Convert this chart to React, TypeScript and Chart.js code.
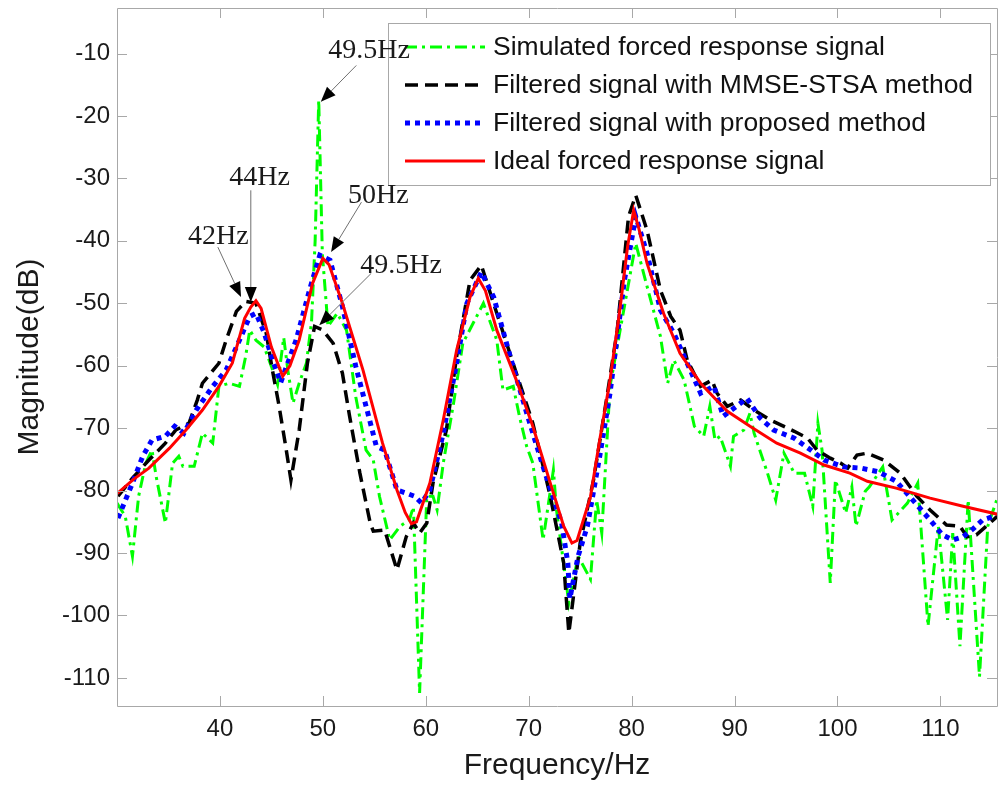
import React, { useEffect, useRef } from 'react';
import { Chart, registerables } from 'chart.js';

Chart.register(...registerables);

// ---- axis ticks ----
const xTickValues = [40, 50, 60, 70, 80, 90, 100, 110];
const yTickValues = [-110, -100, -90, -80, -70, -60, -50, -40, -30, -20, -10];

// ---- Simulated forced response signal (green dash-dot) ----
const simFreq = [30.0, 30.8, 31.5, 32.1, 32.8, 33.4, 33.8, 34.7, 35.4, 36.0, 36.4, 37.5, 38.3, 39.3, 39.9, 40.9, 41.9, 42.5, 42.9, 43.5, 44.3, 45.0, 45.6, 46.2, 46.6, 47.1, 47.7, 48.4, 48.9, 49.25, 49.6, 49.95, 50.5, 51.4, 52.3, 53.2, 54.2, 54.9, 55.5, 56.5, 57.5, 58.4, 58.8, 59.4, 60.1, 60.7, 61.1, 61.7, 62.7, 63.6, 65.6, 66.9, 67.5, 68.5, 69.1, 69.8, 70.4, 71.4, 72.4, 72.7, 73.9, 74.8, 76.0, 76.6, 77.1, 77.9, 79.3, 80.4, 81.5, 82.8, 83.5, 84.1, 85.1, 86.1, 87.0, 87.6, 88.1, 88.6, 89.6, 89.9, 90.9, 91.5, 91.9, 93.2, 94.0, 94.8, 95.8, 96.8, 97.6, 98.1, 98.5, 99.3, 99.8, 100.8, 101.4, 101.8, 102.7, 103.1, 104.4, 105.3, 106.8, 107.8, 108.8, 109.8, 110.7, 111.2, 111.9, 112.7, 113.8, 114.6, 115.6];
const simMag = [-82.0, -84.1, -90.5, -80.9, -75.6, -73.5, -77.7, -85.2, -75.6, -74.5, -76.1, -76.1, -70.8, -72.4, -63.3, -62.8, -63.3, -58.5, -54.3, -55.9, -57.0, -60.1, -63.0, -55.5, -60.7, -66.0, -62.8, -59.6, -53.0, -40.0, -17.5, -42.0, -53.7, -51.6, -54.3, -65.0, -73.5, -75.1, -80.9, -87.9, -85.7, -84.7, -82.6, -112.4, -80.9, -80.9, -83.1, -75.6, -66.0, -56.4, -50.0, -55.9, -63.9, -63.3, -68.1, -72.9, -75.6, -87.9, -76.7, -83.1, -98.0, -90.5, -94.2, -81.5, -86.8, -63.3, -50.5, -40.4, -47.3, -55.3, -62.8, -59.1, -62.3, -69.7, -71.3, -66.5, -71.9, -71.3, -76.1, -71.3, -70.3, -67.6, -70.8, -77.2, -81.5, -74.0, -77.2, -77.2, -82.5, -69.2, -73.5, -94.8, -78.3, -83.6, -79.4, -85.7, -80.1, -79.4, -76.2, -84.7, -82.0, -78.8, -101.7, -85.7, -100.7, -86.8, -104.9, -81.5, -109.8, -85.7, -80.9];

// ---- Filtered signal with MMSE-STSA method (black dashed) ----
const mmseFreq = [30.1, 31.5, 33.1, 34.7, 35.7, 37.0, 37.8, 38.3, 39.9, 40.6, 41.6, 42.5, 43.5, 44.5, 45.1, 45.7, 46.4, 46.9, 47.7, 48.5, 49.2, 50.0, 51.0, 51.9, 52.6, 53.6, 54.6, 54.9, 56.0, 57.2, 58.1, 58.8, 59.4, 60.1, 60.7, 62.0, 63.0, 64.3, 65.4, 66.9, 68.8, 70.4, 72.1, 73.4, 73.9, 75.0, 76.3, 77.6, 78.6, 79.7, 80.4, 81.5, 82.8, 83.8, 84.7, 85.4, 86.7, 87.8, 88.3, 89.3, 90.6, 91.9, 93.5, 95.8, 97.1, 98.0, 99.3, 100.3, 101.0, 101.9, 102.9, 104.5, 106.1, 107.7, 109.0, 110.6, 111.9, 112.6, 113.5, 114.8, 115.6];
const mmseMag = [-80.9, -78.0, -75.1, -72.4, -70.3, -69.2, -65.5, -62.8, -59.6, -55.9, -51.3, -49.7, -50.0, -54.8, -60.7, -66.0, -73.0, -78.3, -70.3, -59.6, -53.7, -54.3, -56.4, -61.2, -68.1, -77.2, -85.2, -86.5, -86.3, -92.7, -87.4, -85.2, -86.8, -85.2, -78.8, -70.3, -58.5, -46.3, -43.9, -51.6, -61.2, -69.2, -80.9, -91.6, -102.8, -88.4, -78.3, -65.0, -54.3, -36.1, -32.7, -38.3, -47.9, -52.1, -54.3, -59.1, -63.3, -62.3, -64.4, -66.5, -65.5, -67.1, -68.7, -70.5, -71.6, -73.5, -74.8, -75.6, -76.4, -74.3, -74.0, -75.1, -77.2, -80.9, -83.1, -85.5, -85.7, -87.4, -87.1, -85.2, -84.0];

// ---- Filtered signal with proposed method (blue dotted) ----
const propFreq = [30.1, 30.7, 31.5, 32.5, 33.4, 34.7, 35.6, 36.5, 37.7, 39.3, 40.6, 41.9, 42.9, 43.5, 44.3, 45.1, 45.9, 47.4, 48.7, 49.7, 50.7, 51.9, 53.2, 54.2, 55.2, 56.0, 57.2, 58.1, 58.9, 59.6, 60.4, 61.7, 63.0, 64.0, 65.4, 66.6, 68.2, 69.9, 71.5, 73.2, 73.8, 74.0, 74.8, 75.7, 76.9, 77.9, 79.3, 80.4, 81.5, 82.8, 84.1, 85.1, 86.7, 88.0, 88.9, 90.2, 91.2, 92.5, 93.8, 95.8, 97.4, 98.7, 100.6, 102.3, 104.0, 105.7, 107.3, 109.0, 110.2, 111.2, 112.2, 113.2, 114.1, 115.6];
const propMag = [-84.4, -82.0, -78.8, -74.5, -71.9, -71.3, -69.7, -70.8, -67.1, -63.3, -60.7, -55.9, -52.1, -51.6, -54.7, -59.0, -62.7, -55.9, -47.9, -42.3, -43.1, -50.5, -60.1, -66.5, -72.9, -73.5, -79.9, -80.4, -80.9, -82.0, -79.9, -70.8, -59.6, -50.0, -45.0, -49.0, -58.5, -68.1, -76.7, -85.2, -91.6, -97.3, -90.5, -85.7, -74.5, -64.4, -46.3, -36.1, -42.0, -51.1, -54.8, -58.5, -64.4, -63.3, -68.1, -66.5, -65.2, -68.4, -70.3, -71.6, -73.5, -75.1, -76.2, -76.4, -77.0, -78.5, -81.5, -84.7, -87.1, -87.9, -87.4, -86.1, -84.7, -83.9];

// ---- Ideal forced response signal (red solid) ----
const idealFreq = [30.0, 31.6, 33.1, 35.1, 36.7, 38.3, 39.9, 41.2, 42.4, 43.0, 43.5, 44.0, 45.0, 46.1, 46.8, 47.7, 49.0, 50.0, 50.6, 51.9, 53.9, 55.8, 57.2, 58.0, 58.6, 59.1, 60.4, 61.7, 63.0, 64.3, 65.1, 65.8, 66.9, 68.8, 70.4, 72.1, 73.4, 74.2, 74.7, 76.0, 76.9, 77.9, 78.9, 79.6, 80.2, 80.7, 81.5, 83.1, 84.7, 86.7, 88.3, 89.3, 91.5, 94.1, 96.4, 98.7, 101.2, 102.9, 105.7, 109.0, 112.2, 115.6];
const idealMag = [-80.5, -78.2, -76.4, -73.2, -70.3, -67.1, -63.3, -59.6, -52.4, -50.6, -49.6, -50.8, -57.0, -61.7, -60.0, -55.9, -46.8, -42.8, -43.8, -50.0, -60.7, -72.4, -79.9, -83.5, -85.3, -85.0, -78.8, -68.7, -57.5, -49.0, -46.0, -48.0, -54.3, -62.3, -69.7, -78.8, -85.7, -88.4, -88.0, -81.0, -71.9, -62.3, -50.5, -41.0, -35.1, -38.0, -43.6, -51.6, -58.0, -62.8, -65.6, -67.3, -69.7, -72.4, -74.0, -75.9, -77.2, -78.5, -79.6, -81.2, -82.5, -83.8];

// ---- annotations (text centre, arrow start, arrow tip; data coordinates) ----
const annLabels = ['49.5Hz', '44Hz', '42Hz', '50Hz', '49.5Hz'];
const annTextX = [54.5, 43.85, 39.85, 55.4, 57.6];
const annTextY = [-9.5, -29.9, -39.4, -32.7, -43.9];
const annFromX = [53.25, 43.0, 39.8, 53.75, 54.7];
const annFromY = [-11.9, -31.9, -41.0, -33.8, -45.2];
const annTipX = [49.8, 43.0, 42.05, 50.8, 49.65];
const annTipY = [-17.7, -49.8, -49.0, -41.8, -53.5];

const seriesLabels = [
  'Simulated forced response signal',
  'Filtered signal with MMSE-STSA method',
  'Filtered signal with proposed method',
  'Ideal forced response signal',
];

const toPoints = (xs: number[], ys: number[]) => xs.map((x, i) => ({ x, y: ys[i] }));

const SANS = '"Liberation Sans", Arial, sans-serif';
const SERIF = '"Liberation Serif", "Times New Roman", serif';
const FRAME = '#a8a8a8';

const framePlugin = {
  id: 'matlabFrame',
  afterDatasetsDraw(chart: any) {
    const { ctx, chartArea } = chart;
    const { left, right, top, bottom } = chartArea;
    const xs = chart.scales.x;
    const ys = chart.scales.y;
    ctx.save();
    ctx.strokeStyle = FRAME;
    ctx.lineWidth = 1;
    ctx.beginPath();
    ctx.rect(Math.round(left) + 0.5, Math.round(top) + 0.5, Math.round(right - left), Math.round(bottom - top));
    const tl = 10;
    xTickValues.forEach((v) => {
      const px = Math.round(xs.getPixelForValue(v)) + 0.5;
      ctx.moveTo(px, bottom);
      ctx.lineTo(px, bottom - tl);
      ctx.moveTo(px, top);
      ctx.lineTo(px, top + tl);
    });
    yTickValues.forEach((v) => {
      const py = Math.round(ys.getPixelForValue(v)) + 0.5;
      ctx.moveTo(left, py);
      ctx.lineTo(left + tl, py);
      ctx.moveTo(right, py);
      ctx.lineTo(right - tl, py);
    });
    ctx.stroke();
    ctx.restore();
  },
};

const legendPlugin = {
  id: 'boxLegend',
  afterDatasetsDraw(chart: any) {
    const { ctx } = chart;
    const bx = 388, by = 23, bw = 602, bh = 162;
    ctx.save();
    ctx.fillStyle = '#ffffff';
    ctx.fillRect(bx, by, bw, bh);
    ctx.strokeStyle = FRAME;
    ctx.lineWidth = 1;
    ctx.strokeRect(bx + 0.5, by + 0.5, bw, bh);
    const rows = [47, 85, 123, 161];
    ctx.font = `26.5px ${SANS}`;
    ctx.textBaseline = 'middle';
    ctx.textAlign = 'left';
    const byLabel: any = {};
    chart.data.datasets.forEach((d: any) => (byLabel[d.label] = d));
    seriesLabels.forEach((lab, i) => {
      const d = byLabel[lab];
      const y = rows[i];
      ctx.beginPath();
      ctx.strokeStyle = d.borderColor;
      ctx.lineWidth = d.borderWidth;
      ctx.setLineDash(d.borderDash || []);
      ctx.lineCap = 'butt';
      ctx.moveTo(405, y);
      ctx.lineTo(485, y);
      ctx.stroke();
      ctx.setLineDash([]);
      ctx.fillStyle = '#111111';
      ctx.fillText(lab, 493, y + 1);
    });
    ctx.restore();
  },
};

const annotationPlugin = {
  id: 'arrowNotes',
  afterDraw(chart: any) {
    const { ctx } = chart;
    const xs = chart.scales.x;
    const ys = chart.scales.y;
    ctx.save();
    annLabels.forEach((lab, i) => {
      const fx = xs.getPixelForValue(annFromX[i]);
      const fy = ys.getPixelForValue(annFromY[i]);
      const tx = xs.getPixelForValue(annTipX[i]);
      const ty = ys.getPixelForValue(annTipY[i]);
      const ang = Math.atan2(ty - fy, tx - fx);
      const hl = 15, hw = 6;
      const bx = tx - hl * Math.cos(ang);
      const by = ty - hl * Math.sin(ang);
      ctx.strokeStyle = '#707070';
      ctx.lineWidth = 1;
      ctx.beginPath();
      ctx.moveTo(fx, fy);
      ctx.lineTo(bx, by);
      ctx.stroke();
      ctx.fillStyle = '#000000';
      ctx.beginPath();
      ctx.moveTo(tx, ty);
      ctx.lineTo(bx + hw * Math.sin(ang), by - hw * Math.cos(ang));
      ctx.lineTo(bx - hw * Math.sin(ang), by + hw * Math.cos(ang));
      ctx.closePath();
      ctx.fill();
      ctx.font = `28px ${SERIF}`;
      ctx.textAlign = 'center';
      ctx.textBaseline = 'middle';
      ctx.fillStyle = '#1a1a1a';
      ctx.fillText(lab, xs.getPixelForValue(annTextX[i]), ys.getPixelForValue(annTextY[i]));
    });
    ctx.restore();
  },
};

export default function App() {
  const canvasRef = useRef<HTMLCanvasElement | null>(null);

  useEffect(() => {
    const canvas = canvasRef.current;
    if (!canvas) return;
    const chart = new Chart(canvas, {
      type: 'line',
      data: {
        datasets: [
          {
            label: seriesLabels[0],
            data: toPoints(simFreq, simMag),
            borderColor: '#00ff00',
            borderWidth: 3,
            borderDash: [12, 5, 3, 5],
            order: 3,
          },
          {
            label: seriesLabels[1],
            data: toPoints(mmseFreq, mmseMag),
            borderColor: '#000000',
            borderWidth: 3.5,
            borderDash: [13, 7],
            order: 2,
          },
          {
            label: seriesLabels[2],
            data: toPoints(propFreq, propMag),
            borderColor: '#0000ff',
            borderWidth: 5,
            borderDash: [5, 5],
            order: 1,
          },
          {
            label: seriesLabels[3],
            data: toPoints(idealFreq, idealMag),
            borderColor: '#ff0000',
            borderWidth: 3,
            order: 0,
          },
        ] as any,
      },
      options: {
        animation: false,
        responsive: false,
        devicePixelRatio: 1,
        parsing: false,
        layout: { padding: { top: 8, right: 3, left: 0, bottom: 0 } },
        elements: {
          point: { radius: 0 },
          line: { tension: 0, borderCapStyle: 'butt', borderJoinStyle: 'miter' },
        },
        plugins: {
          legend: { display: false },
          tooltip: { enabled: false },
        },
        scales: {
          x: {
            type: 'linear',
            min: 30,
            max: 115.5,
            grid: { display: false, drawTicks: false, tickLength: 0 },
            border: { display: false },
            afterBuildTicks: (scale: any) => {
              scale.ticks = xTickValues.map((v) => ({ value: v }));
            },
            afterFit: (scale: any) => {
              scale.height = 85;
              scale.paddingLeft = 0;
              scale.paddingRight = 0;
            },
            ticks: {
              padding: 9,
              color: '#1a1a1a',
              font: { family: SANS, size: 24 },
              maxRotation: 0,
              autoSkip: false,
            },
            title: {
              display: true,
              text: 'Frequency/Hz',
              color: '#1a1a1a',
              font: { family: SANS, size: 30 },
              padding: { top: 0, bottom: 7 },
            },
          },
          y: {
            type: 'linear',
            min: -114.5,
            max: -2.7,
            grid: { display: false, drawTicks: false, tickLength: 0 },
            border: { display: false },
            afterBuildTicks: (scale: any) => {
              scale.ticks = yTickValues.map((v) => ({ value: v }));
            },
            afterFit: (scale: any) => {
              scale.width = 117;
              scale.paddingTop = 0;
              scale.paddingBottom = 0;
            },
            ticks: {
              padding: 7,
              color: '#1a1a1a',
              font: { family: SANS, size: 24 },
              autoSkip: false,
            },
            title: {
              display: true,
              text: 'Magnitude(dB)',
              color: '#1a1a1a',
              font: { family: SANS, size: 30 },
              padding: { top: 12, bottom: 0 },
            },
          },
        },
      },
      plugins: [framePlugin, legendPlugin, annotationPlugin],
    } as any);
    return () => chart.destroy();
  }, []);

  return (
    <div style={{ position: 'fixed', left: 0, top: 0, width: 1000, height: 791, background: '#ffffff' }}>
      <canvas ref={canvasRef} width={1000} height={791} style={{ display: 'block', width: 1000, height: 791 }} />
    </div>
  );
}
